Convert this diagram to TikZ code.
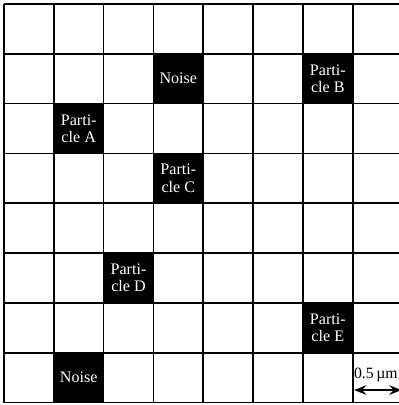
\documentclass[tikz,border=0pt]{standalone}
\usepackage{fontspec}
\setmainfont{Liberation Serif}
\usetikzlibrary{arrows.meta}
\begin{document}
\begin{tikzpicture}[x=1cm,y=1cm,
  blackcell/.style={fill=black,text=white,minimum size=1cm,inner sep=0pt,
    align=center,font=\fontsize{9.2}{10}\selectfont},
  gridline/.style={line width=1pt},
  scalelabel/.style={anchor=base west,inner sep=0pt,font=\fontsize{9}{10}\selectfont},
  scalearrow/.style={line width=1pt,{Stealth[length=7pt,width=5.5pt,inset=2.5pt]}-{Stealth[length=7pt,width=5.5pt,inset=2.5pt]}}]
\useasboundingbox (-0.08,-0.05) rectangle (7.91,8.08);
% black cells (col, row from top)
\node[blackcell] (noise1) at (3.5,6.5) {Noise};
\node[blackcell] (pB) at (6.5,6.5) {Parti-\\cle B};
\node[blackcell] (pA) at (1.5,5.5) {Parti-\\cle A};
\node[blackcell] (pC) at (3.5,4.5) {Parti-\\cle C};
\node[blackcell] (pD) at (2.5,2.5) {Parti-\\cle D};
\node[blackcell] (pE) at (6.5,1.5) {Parti-\\cle E};
\node[blackcell] (noise2) at (1.5,0.5) {Noise};
% grid
\draw[gridline] (0,0) grid (8,8);
% scale bar
\node[scalelabel] (scale) at (7.02,0.48) {0.5\,µm};
\coordinate (sbL) at (7.03,0.25);
\coordinate (sbR) at (7.98,0.25);
\draw[scalearrow] (sbL) -- (sbR);
\end{tikzpicture}
\end{document}
